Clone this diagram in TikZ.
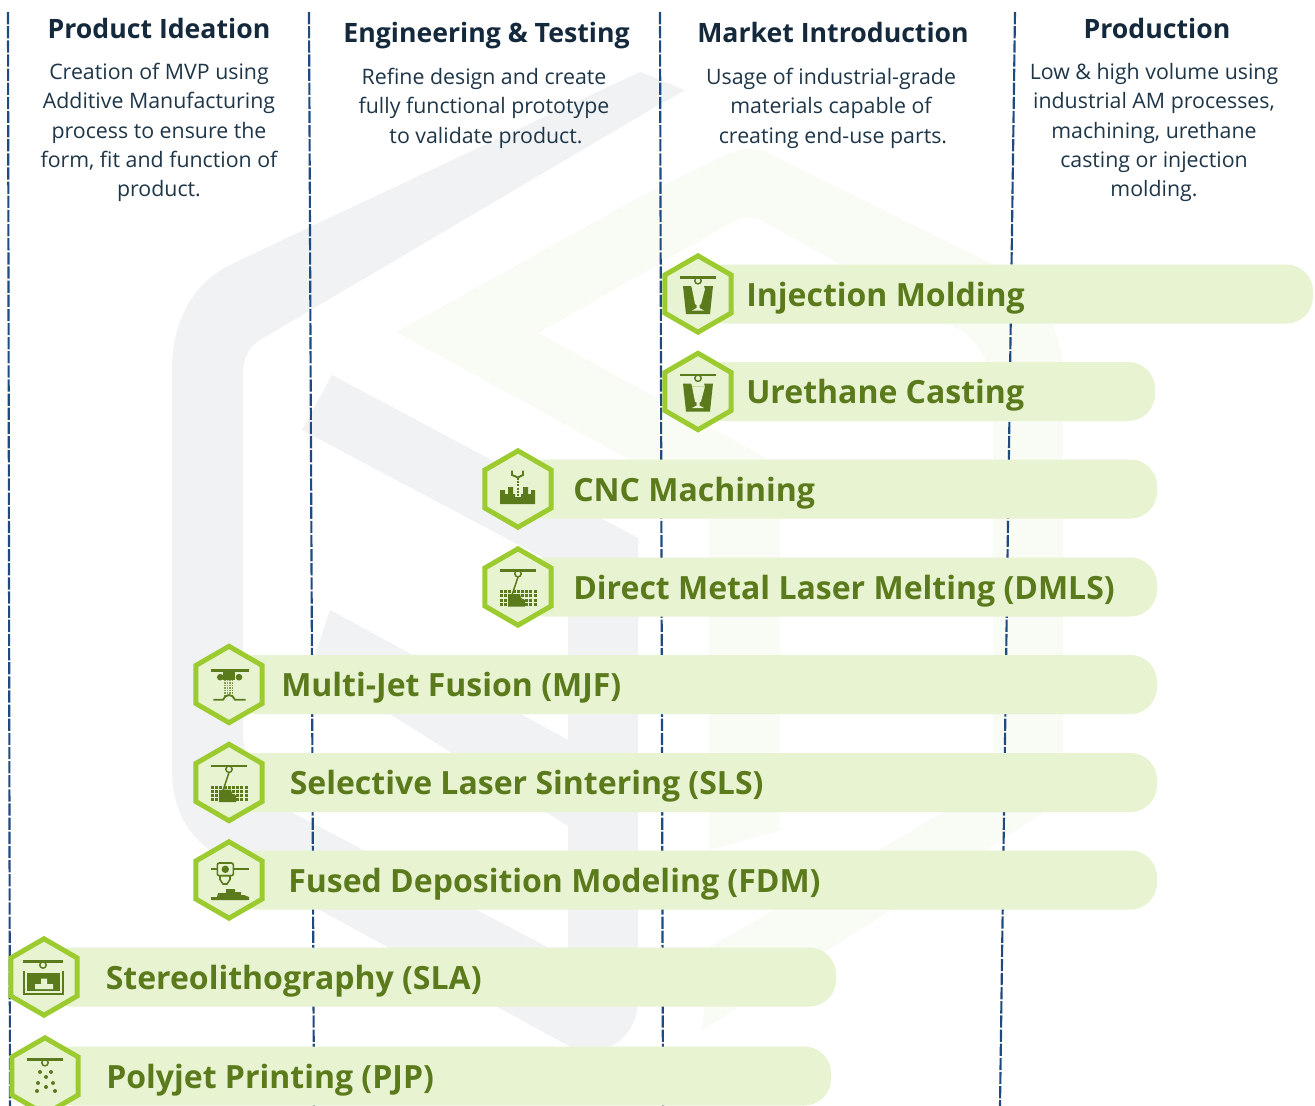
\documentclass[tikz,border=0pt]{standalone}
\usepackage{fontspec}
\setmainfont{Open Sans}
\definecolor{wmgray}{HTML}{F1F2F4}
\definecolor{wmgreen}{HTML}{F9FBF5}
\definecolor{barfill}{HTML}{E8F3D1}
\definecolor{hexline}{HTML}{9BCB2E}
\definecolor{labelc}{HTML}{5A7A1C}
\definecolor{headc}{HTML}{14293C}
\definecolor{bodyc}{HTML}{1E3648}
\definecolor{dashc}{HTML}{1F4A7F}
\tikzset{
  x=0.75pt,y=-0.75pt,
  laneline/.style={draw=dashc,line width=1.6pt,dash pattern=on 9.2pt off 1.4pt},
  headtext/.style={font=\fontsize{20pt}{24pt}\selectfont\bfseries,text=headc,anchor=base,inner sep=0pt},
  bodytext/.style={font=\fontsize{16pt}{22pt}\selectfont,text=bodyc,align=center,anchor=north,inner sep=0pt},
  proclabel/.style={font=\fontsize{24pt}{30pt}\selectfont\bfseries,text=labelc,anchor=base west,inner sep=0pt},
  ink/.style={fill=labelc,draw=none},
  inkline/.style={draw=labelc,line width=1.4pt},
  pale/.style={fill=barfill,draw=none},
}
\newcommand{\nozzlebar}{%
  \draw[draw=labelc,line width=1.1pt,fill=barfill] (0,-13.3) circle[radius=2.4pt];
  \fill[ink] (-18,-18) rectangle (18,-15.3);
}
\newcommand{\iconmold}{%
  \nozzlebar
  \fill[ink] (-15,-8) -- (-7,-8) -- (-6,-5) -- (7,-5) -- (6,-8) -- (15,-8) -- (12,20) -- (-12,20) -- cycle;
  \fill[pale] (-6,-5) -- (7,-5) -- (3,10) -- (1.5,11) -- (1.5,14) -- (6,16.5) -- (-6,16.5) -- (-1.5,14) -- (-1.5,11) -- (-3,10) -- cycle;
}
\newcommand{\iconcnc}{%
  \draw[inkline] (-6,-18.5) -- (-6,-14) -- (0,-11.5) -- (5,-14) -- (5,-18.5);
  \draw[draw=labelc,line width=2.2pt,dash pattern=on 1.6pt off 0.9pt] (0,-11.5) -- (0,9);
  \fill[ink] (-18,15) -- (-18,1) -- (-13,1) -- (-13,5) -- (-10,5) -- (-10,-2) -- (-5,-2) -- (-5,5) -- (-3,5) -- (-3,8) -- (3,8) -- (3,5) -- (5,5) -- (5,-2) -- (10,-2) -- (10,5) -- (13,5) -- (13,1) -- (17,1) -- (17,15) -- cycle;
}
\newcommand{\iconpowder}{%
  \nozzlebar
  \draw[inkline,line width=1.1pt] (0,-10) -- (-6,8);
  \foreach \gx in {-18,-13.8,...,17}{\foreach \gy in {3,7.3,...,18}{
    \fill[ink] (\gx,\gy) rectangle ++(3,3);}}
  \fill[ink] (-10,19.5) -- (-10,10) -- (-6,7) -- (2,7) -- (3,11) -- (7,13) -- (7,19.5) -- cycle;
}
\newcommand{\iconmjf}{%
  \fill[ink] (-18,-15.7) rectangle (20,-12.3);
  \fill[ink] (-5.7,-12.3) rectangle (6,-5);
  \fill[ink] (-8.7,-7.3) circle[radius=2.5pt];
  \fill[ink] (10,-7.3) circle[radius=2.5pt];
  \foreach \gx in {-4,-1.5,1,3.5}{\draw[draw=labelc!70!barfill,line width=0.9pt,dash pattern=on 1.2pt off 0.7pt] (\gx,-5) -- (\gx,11);}
  \draw[inkline] (-15.7,15.3) -- (-6,15.3) .. controls (-4,9) and (4,9) .. (6,15.3) -- (16.7,15.3);
}
\newcommand{\iconfdm}{%
  \fill[ink] (-18,-12) rectangle (20,-9.6);
  \draw[draw=labelc,line width=1.2pt,fill=barfill,rounded corners=1.5pt] (-11.7,-17) rectangle (4.3,-4.3);
  \fill[ink] (-3.7,-10.7) circle[radius=2.8pt];
  \draw[draw=labelc,line width=1.2pt,fill=barfill] (-9,-4.3) -- (1,-4.3) -- (1,-0.5) -- (-2,4) -- (-6,4) -- (-9,-0.5) -- cycle;
  \fill[ink] (-18,20) -- (-18,17) -- (-12,17) -- (-11,13) -- (-3,13) -- (-3,9) -- (6,9) -- (6,12) -- (12,12) -- (12,15) -- (15,15) -- (20,17) -- (20,20) -- cycle;
}
\newcommand{\iconsla}{%
  \draw[draw=labelc,line width=1.1pt,fill=barfill] (-1,-12) circle[radius=2.4pt];
  \fill[ink] (-20.6,-16.7) rectangle (19.3,-14.3);
  \draw[inkline,line width=1.5pt] (-20,-6) -- (-20,16.5) -- (19,16.5) -- (19,-6);
  \fill[ink] (-17,-4) rectangle (16,14);
  \fill[pale] (-9,12) -- (-9,7) -- (-3,7) -- (-3,1.5) -- (3,1.5) -- (3,7) -- (9,7) -- (9,12) -- cycle;
}
\newcommand{\iconjet}{%
  \nozzlebar
  \foreach \dx/\dy in {-5/-4,6/-4,1/1,-7/7,8/7,1/11,-8/15,10/15}{\fill[ink] (\dx,\dy) circle[radius=1.5pt];}
}
\newcommand{\procbar}[8]{% id, label, cx, cy, right, text x, icon, baseline offset
  \fill[barfill,rounded corners=20pt] (#3,#4-29.5) -- (#5,#4-29.5) -- (#5,#4+29.5) -- (#3,#4+29.5) -- cycle;
  \draw[fill=barfill,draw=hexline,line width=3.7pt,line join=miter]
    (#3,#4-38.2) -- (#3+33.2,#4-19) -- (#3+33.2,#4+19) -- (#3,#4+38.2) -- (#3-33.2,#4+19) -- (#3-33.2,#4-19) -- cycle;
  \begin{scope}[shift={(#3,#4)}]#7\end{scope}
  \node[proclabel] (#1) at (#6,#4+#8) {#2};
}
\begin{document}
\begin{tikzpicture}
\useasboundingbox (0,0) rectangle (1315,1106);
\fill[white] (0,0) rectangle (1315,1106);
% watermark
\fill[wmgray] (685,90) -- (640,72) -- (310,227) -- (230,265) .. controls (190,285) and (172,325) .. (172,370)
  -- (172,770) .. controls (172,805) and (185,832) .. (210,850) -- (567,1045) .. controls (600,1062) and (638,1040) .. (638,1000)
  -- (638,538) -- (332,375) -- (302,430) -- (568,571) -- (568,740) -- (330,610) -- (312,665) -- (568,826) -- (568,958)
  -- (293,813) .. controls (262,800) and (243,770) .. (243,730) -- (243,375) .. controls (243,355) and (250,345) .. (265,337) -- (650,110) -- cycle;
\fill[wmgreen] (397,332) -- (640,197) -- (720,158) .. controls (735,150) and (745,146) .. (765,152) -- (990,263) .. controls (1040,290) and (1063,325) .. (1063,380)
  -- (1063,770) .. controls (1063,790) and (1055,805) .. (1040,815) -- (702,1030) -- (710,947) -- (965,800) .. controls (985,790) and (993,780) .. (993,765)
  -- (993,400) .. controls (993,365) and (980,340) .. (955,327) -- (770,225) .. controls (755,215) and (745,215) .. (730,223) -- (538,333) -- (780,466) -- (780,830) -- (709,850) -- (709,503) -- cycle;
% lane lines
\coordinate (a1) at (8,12); \coordinate (a2) at (10,1106);
\coordinate (b1) at (309,12); \coordinate (b2) at (314,1106);
\coordinate (c1) at (660,12); \coordinate (c2) at (663,1106);
\coordinate (d1) at (1015,12); \coordinate (d2) at (1000,1106);
\draw[laneline] (a1) -- (a2);
\draw[laneline] (b1) -- (b2);
\draw[laneline] (c1) -- (c2);
\draw[laneline] (d1) -- (d2);
% headers
\node[headtext] (h1) at (159,39) {Product Ideation};
\node[headtext] (h2) at (486.5,43) {Engineering \& Testing};
\node[headtext] (h3) at (833,43) {Market Introduction};
\node[headtext] (h4) at (1157,39) {Production};
\node[bodytext] (t1) at (159,63) {Creation of MVP using\\Additive Manufacturing\\process to ensure the\\form, fit and function of\\product.};
\node[bodytext] (t2) at (484,68) {Refine design and create\\fully functional prototype\\\hspace*{3pt}to validate product.};
\node[bodytext] (t3) at (831,68) {Usage of industrial-grade\\materials capable of\\\hspace*{3pt}creating end-use parts.};
\node[bodytext] (t4) at (1154,63) {Low \& high volume using\\industrial AM processes,\\machining, urethane\\casting or injection\\molding.};
% process bars
\procbar{p1}{Injection Molding}{698}{294}{1313}{746}{\iconmold}{12}
\procbar{p2}{Urethane Casting}{698}{391.5}{1155}{746}{\iconmold}{12}
\procbar{p3}{CNC Machining}{518}{489}{1157}{573}{\iconcnc}{12}
\procbar{p4}{Direct Metal Laser Melting (DMLS)}{518}{587}{1157}{573}{\iconpowder}{12}
\procbar{p5}{Multi-Jet Fusion (MJF)}{229}{684.5}{1157}{281}{\iconmjf}{12}
\procbar{p6}{Selective Laser Sintering (SLS)}{229}{782.5}{1157}{289.5}{\iconpowder}{12}
\procbar{p7}{Fused Deposition Modeling (FDM)}{229}{880}{1157}{288}{\iconfdm}{12}
\procbar{p8}{Stereolithography (SLA)}{44}{977}{836}{105.5}{\iconsla}{12}
\procbar{p9}{Polyjet Printing (PJP)}{45}{1076}{831}{106}{\iconjet}{12}
\end{tikzpicture}
\end{document}
